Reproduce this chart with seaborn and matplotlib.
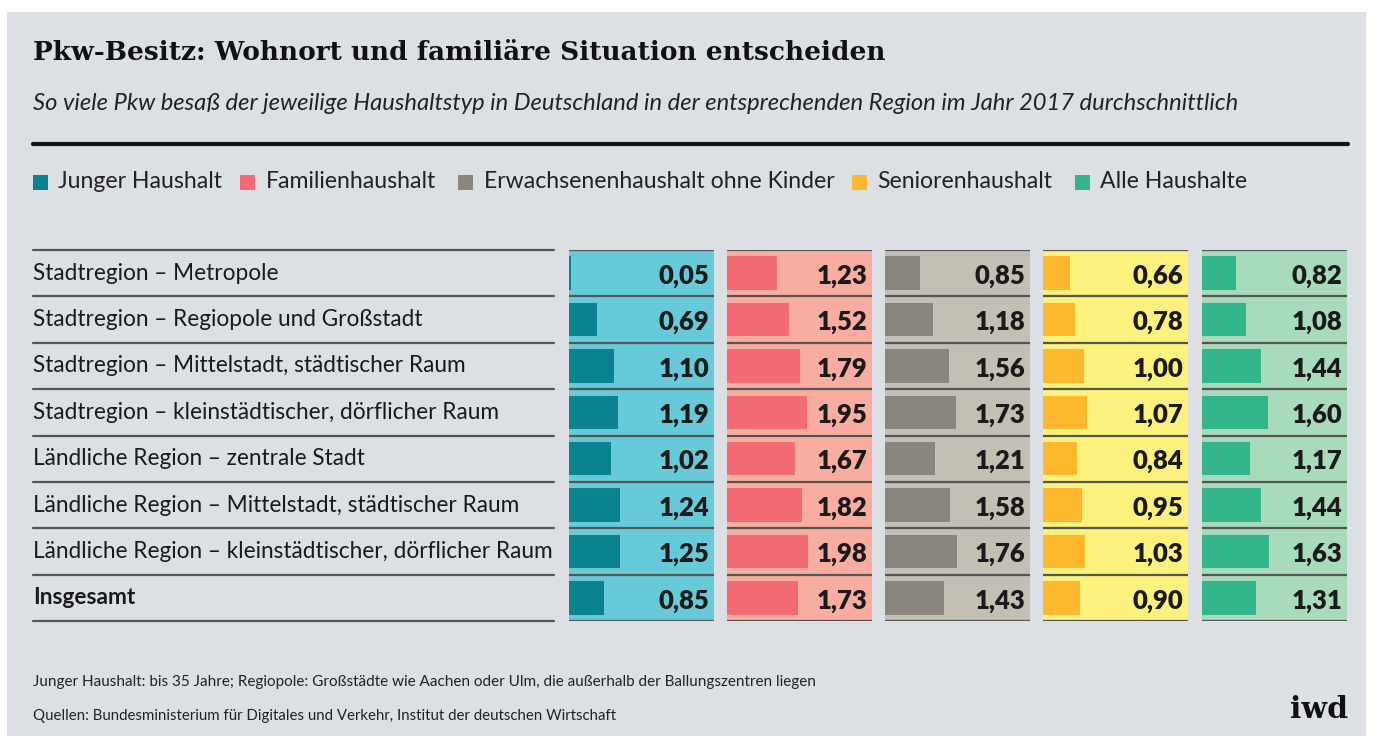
import matplotlib
matplotlib.use("Agg")
import matplotlib.pyplot as plt
from matplotlib.patches import Rectangle
from matplotlib.lines import Line2D
import matplotlib.transforms as mtransforms
import pandas as pd
import seaborn as sns

# ---------------- data ----------------
regions = [
    "Stadtregion – Metropole",
    "Stadtregion – Regiopole und Großstadt",
    "Stadtregion – Mittelstadt, städtischer Raum",
    "Stadtregion – kleinstädtischer, dörflicher Raum",
    "Ländliche Region – zentrale Stadt",
    "Ländliche Region – Mittelstadt, städtischer Raum",
    "Ländliche Region – kleinstädtischer, dörflicher Raum",
    "Insgesamt",
]
series = ["Junger Haushalt", "Familienhaushalt", "Erwachsenenhaushalt ohne Kinder",
          "Seniorenhaushalt", "Alle Haushalte"]
junger = [0.05, 0.69, 1.10, 1.19, 1.02, 1.24, 1.25, 0.85]
familien = [1.23, 1.52, 1.79, 1.95, 1.67, 1.82, 1.98, 1.73]
erwachsene = [0.85, 1.18, 1.56, 1.73, 1.21, 1.58, 1.76, 1.43]
senioren = [0.66, 0.78, 1.00, 1.07, 0.84, 0.95, 1.03, 0.90]
alle = [0.82, 1.08, 1.44, 1.60, 1.17, 1.44, 1.63, 1.31]

title = "Pkw-Besitz: Wohnort und familiäre Situation entscheiden"
subtitle = ("So viele Pkw besaß der jeweilige Haushaltstyp in Deutschland in der "
            "entsprechenden Region im Jahr 2017 durchschnittlich")
note = ("Junger Haushalt: bis 35 Jahre; Regiopole: Großstädte wie Aachen oder Ulm, "
        "die außerhalb der Ballungszentren liegen")
source = "Quellen: Bundesministerium für Digitales und Verkehr, Institut der deutschen Wirtschaft"
logo = "iwd"

df = pd.DataFrame({"region": regions, series[0]: junger, series[1]: familien,
                   series[2]: erwachsene, series[3]: senioren, series[4]: alle})

# ---------------- style ----------------
BG = "#dcdfe3"
bar_colors = ["#0b8290", "#f26b75", "#8a857d", "#fdb82d", "#34b48a"]
panel_colors = ["#66cad8", "#f9ada0", "#c4bfb5", "#fcf17c", "#a7dbbb"]
LINE = "#555555"
SANS = ["Lato", "DejaVu Sans"]
SERIF = ["DejaVu Serif"]

sns.set_theme(style="white")
plt.rcParams["font.family"] = SANS

W, H = 1373, 740
fig = plt.figure(figsize=(W / 100, H / 100), dpi=100)
fig.patch.set_facecolor("white")
renderer = fig.canvas.get_renderer()


def fx(x):
    return x / W


def fy(y):
    return 1 - y / H


def fit(t, width_px):
    bb = t.get_window_extent(renderer)
    t.set_fontsize(t.get_fontsize() * width_px / bb.width)
    return t.get_fontsize()


fig.add_artist(Rectangle((fx(7), fy(736)), (1366 - 7) / W, (736 - 12) / H,
                         transform=fig.transFigure, facecolor=BG, edgecolor="none", zorder=0))

# title / subtitle
t = fig.text(fx(33), fy(52), title, family=SERIF, weight="bold", fontsize=18,
             va="center", ha="left", color="#111111")
fit(t, 852)
t = fig.text(fx(33), fy(103), subtitle, style="italic", fontsize=14,
             va="center", ha="left", color="#222222")
fit(t, 1215)
fig.add_artist(Line2D([fx(33), fx(1348)], [fy(144), fy(144)], color="#111111",
                      lw=3, transform=fig.transFigure))

# legend
sq_x = [33, 240, 458, 852, 1075]
tx_x = [58, 266, 484, 877, 1100]
leg_texts = []
for i, s in enumerate(series):
    fig.add_artist(Rectangle((fx(sq_x[i]), fy(190)), 15 / W, 15 / H,
                             transform=fig.transFigure, facecolor=bar_colors[i],
                             edgecolor="none"))
    leg_texts.append(fig.text(fx(tx_x[i]), fy(182), s, fontsize=14, va="center",
                              ha="left", color="#222222"))
fs_leg = fit(leg_texts[0], 222 - 58)
for tt in leg_texts:
    tt.set_fontsize(fs_leg)

# table geometry
top, bottom = 250, 621
nrow = len(regions)
rowh = (bottom - top) / nrow

# row labels + lines
lab_texts = []
for i, r in enumerate(regions):
    yc = top + (i + 0.5) * rowh
    lab_texts.append(fig.text(fx(33), fy(yc), r, fontsize=14, va="center", ha="left",
                              color="#1a1a1a",
                              weight="bold" if r == "Insgesamt" else "normal"))
fs_lab = fit(lab_texts[6], 553 - 33)
for tt in lab_texts:
    tt.set_fontsize(fs_lab)
for i in range(nrow + 1):
    yy = top + i * rowh
    fig.add_artist(Line2D([fx(33), fx(554)], [fy(yy), fy(yy)], color=LINE, lw=1.6,
                          transform=fig.transFigure))

# panels
px0 = [569, 727, 885, 1043, 1202]
pw = 145
xmax = pw / 41.0
val_fs = None
for j, s in enumerate(series):
    ax = fig.add_axes([fx(px0[j]), fy(bottom), pw / W, (bottom - top) / H])
    sns.barplot(data=df, x=s, y="region", orient="h", color=bar_colors[j],
                width=0.72, saturation=1, linewidth=0, edgecolor="none", ax=ax)
    ax.set_facecolor(panel_colors[j])
    ax.set_xlim(0, xmax)
    ax.set_ylim(nrow - 0.5, -0.5)
    ax.set_xlabel("")
    ax.set_ylabel("")
    ax.set_xticks([])
    ax.set_yticks([])
    for sp in ax.spines.values():
        sp.set_visible(False)
    for k in range(nrow + 1):
        ax.axhline(k - 0.5, color=LINE, lw=1.6, zorder=3)
    trans = mtransforms.blended_transform_factory(ax.transAxes, ax.transData)
    vals = df[s].tolist()
    texts = []
    for i, v in enumerate(vals):
        lab = f"{v:.2f}".replace(".", ",")
        texts.append(ax.text(1 - 5 / pw, i + 0.06, lab, transform=trans, ha="right",
                             va="center", fontsize=17, weight="heavy", color="#1a1a1a"))
    if val_fs is None:
        val_fs = fit(texts[0], 51)
    for tt in texts:
        tt.set_fontsize(val_fs)

# footer
t = fig.text(fx(33), fy(682), note, fontsize=10, va="center", ha="left", color="#222222")
fit(t, 813 - 33)
t = fig.text(fx(33), fy(716), source, fontsize=10, va="center", ha="left", color="#222222")
fit(t, 617 - 33)
t = fig.text(fx(1348), fy(710), logo, family=SERIF, weight="bold", fontsize=20,
             va="center", ha="right", color="#111111")
fit(t, 1348 - 1290)

fig.savefig("out.png", dpi=100, facecolor=fig.get_facecolor())
